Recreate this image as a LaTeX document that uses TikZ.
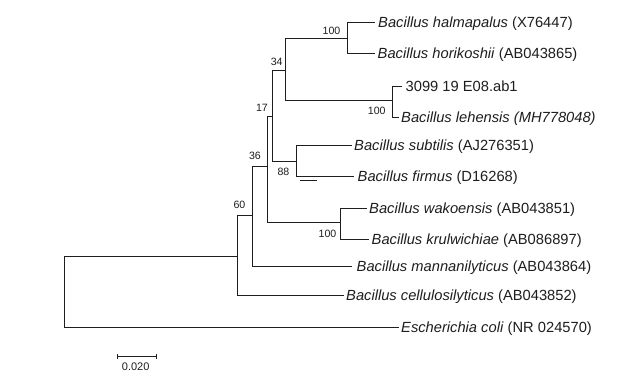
\documentclass[tikz,border=0pt]{standalone}
\usepackage{fontspec}
\setmainfont{Liberation Sans}
\definecolor{ink}{HTML}{1E1E1E}
\begin{document}
\begin{tikzpicture}[x=1pt,y=-1pt,
  branch/.style={draw=ink,line width=1.1pt,line join=miter},
  leaf/.style={anchor=base west,inner sep=0pt,text=ink,font=\fontsize{14.7}{17}\selectfont},
  boot/.style={anchor=center,inner sep=0pt,text=ink,font=\fontsize{10.6}{12}\selectfont}]
\useasboundingbox[fill=white] (0,0) rectangle (641,391);
% leaf tips
\coordinate (hal) at (374.5,22.5);
\coordinate (hor) at (374.5,53.5);
\coordinate (s3099) at (401.5,86.5);
\coordinate (leh) at (398.5,117.5);
\coordinate (sub) at (351.5,145.5);
\coordinate (fir) at (353.5,176.5);
\coordinate (wak) at (366.5,208.5);
\coordinate (kru) at (368.5,239.5);
\coordinate (man) at (351.5,266.5);
\coordinate (cel) at (343.5,295.5);
\coordinate (eco) at (398.5,327.5);
% internal nodes
\coordinate (nA) at (347.5,38.5);
\coordinate (nB) at (392.5,100.5);
\coordinate (n34) at (285.5,70.5);
\coordinate (n88) at (296.5,161.5);
\coordinate (n17) at (272.5,116.5);
\coordinate (nW) at (340.5,222.5);
\coordinate (n36) at (267.5,166.5);
\coordinate (n60) at (252.5,215.5);
\coordinate (nP) at (237.5,256.5);
\coordinate (root) at (64.5,292.5);
% branches
\path[branch] (hal) -| (nA) |- (hor);
\path[branch] (s3099) -| (nB) |- (leh);
\path[branch] (nA) -| (n34) |- (nB);
\path[branch] (sub) -| (n88) |- (fir);
\path[branch] (n34) -| (n17) |- (n88);
\path[branch] (wak) -| (nW) |- (kru);
\path[branch] (n17) -| (n36) |- (nW);
\path[branch] (n36) -| (n60) |- (man);
\path[branch] (n60) -| (nP) |- (cel);
\path[branch] (nP) -| (root) |- (eco);
% small stray line under firmus
\coordinate (st1) at (299.5,180.5);
\coordinate (st2) at (316.5,180.5);
\path[branch] (st1) -- (st2);
% leaf labels
\node[leaf] (Lhal) at ([xshift=3.5pt,yshift=-5.26pt]hal) {\textit{Bacillus halmapalus} (X76447)};
\node[leaf] (Lhor) at ([xshift=3pt,yshift=-5.26pt]hor) {\textit{Bacillus horikoshii} (AB043865)};
\node[leaf] (L3099) at ([xshift=4pt,yshift=-5.26pt]s3099) {3099 19 E08.ab1};
\node[leaf] (Lleh) at ([xshift=2.5pt,yshift=-5.26pt]leh) {\textit{Bacillus lehensis (MH778048)}};
\node[leaf] (Lsub) at ([xshift=2.5pt,yshift=-5.26pt]sub) {\textit{Bacillus subtilis} (AJ276351)};
\node[leaf] (Lfir) at ([xshift=4pt,yshift=-5.26pt]fir) {\textit{Bacillus firmus} (D16268)};
\node[leaf] (Lwak) at ([xshift=2.5pt,yshift=-5.26pt]wak) {\textit{Bacillus wakoensis} (AB043851)};
\node[leaf] (Lkru) at ([xshift=3pt,yshift=-5.26pt]kru) {\textit{Bacillus krulwichiae} (AB086897)};
\node[leaf] (Lman) at ([xshift=5pt,yshift=-5.26pt]man) {\textit{Bacillus mannanilyticus} (AB043864)};
\node[leaf] (Lcel) at ([xshift=2.5pt,yshift=-5.26pt]cel) {\textit{Bacillus cellulosilyticus} (AB043852)};
\node[leaf] (Leco) at ([xshift=2.5pt,yshift=-5.26pt]eco) {\textit{Escherichia coli} (NR 024570)};
% bootstrap values
\node[boot] (bA) at (331.5,31) {100};
\node[boot] (b34) at (276.7,61.7) {34};
\node[boot] (bB) at (376.7,110.5) {100};
\node[boot] (b17) at (262,107.7) {17};
\node[boot] (b36) at (255,156.3) {36};
\node[boot] (b88) at (283.5,171.7) {88};
\node[boot] (b60) at (239.5,204.5) {60};
\node[boot] (bW) at (327.5,234) {100};
% scale bar
\coordinate (sb1) at (117.5,356.5);
\coordinate (sb2) at (156.5,356.5);
\path[draw=ink,line width=1.1pt] ([yshift=2.5pt]sb1) -- ([yshift=-2.5pt]sb1);
\path[draw=ink,line width=1.1pt] ([yshift=2.5pt]sb2) -- ([yshift=-2.5pt]sb2);
\path[draw=ink,line width=1.1pt] (sb1) -- (sb2);
\node[boot,font=\fontsize{11}{13}\selectfont] (sbl) at (135.7,366.7) {0.020};
\end{tikzpicture}
\end{document}
